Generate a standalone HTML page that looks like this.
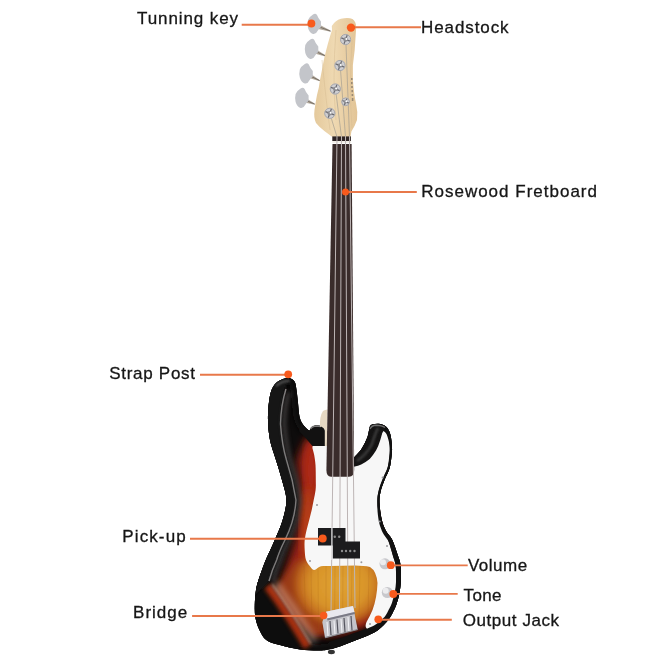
<!DOCTYPE html>
<html><head><meta charset="utf-8">
<style>
html,body{margin:0;padding:0;background:#fff;width:660px;height:660px;overflow:hidden}
svg{display:block}
text{font-family:"Liberation Sans",sans-serif;font-size:17px;fill:#161616;stroke:#161616;stroke-width:0.3}
</style></head>
<body>
<svg width="660" height="660" viewBox="0 0 660 660">
<defs>
  <radialGradient id="burst" cx="335" cy="585" r="80" gradientUnits="userSpaceOnUse" gradientTransform="translate(335 585) scale(0.8 1.6) translate(-335 -585)">
    <stop offset="0" stop-color="#e9a83c"/>
    <stop offset="0.4" stop-color="#dc8c24"/>
    <stop offset="0.62" stop-color="#c85a18"/>
    <stop offset="0.78" stop-color="#9a2410"/>
    <stop offset="0.9" stop-color="#3a0c07"/>
    <stop offset="1" stop-color="#0e0c0c"/>
  </radialGradient>
  <radialGradient id="amber" cx="340" cy="584" r="48" gradientUnits="userSpaceOnUse" gradientTransform="translate(340 584) scale(1 0.9) translate(-340 -584)">
    <stop offset="0" stop-color="#e0a232"/>
    <stop offset="0.6" stop-color="#d8942a"/>
    <stop offset="0.85" stop-color="#c26a1e"/>
    <stop offset="1" stop-color="#9a3a14"/>
  </radialGradient>
  <linearGradient id="maple" x1="0" y1="0" x2="1" y2="0">
    <stop offset="0" stop-color="#e4c99c"/>
    <stop offset="0.45" stop-color="#efd9b2"/>
    <stop offset="1" stop-color="#e2c496"/>
  </linearGradient>
  <filter id="blur4" x="-20%" y="-20%" width="140%" height="140%"><feGaussianBlur stdDeviation="4"/></filter>
  <filter id="blur8" x="-50%" y="-50%" width="200%" height="200%"><feGaussianBlur stdDeviation="8"/></filter>
  <filter id="blur6" x="-50%" y="-50%" width="200%" height="200%"><feGaussianBlur stdDeviation="6"/></filter>
  <filter id="blur3" x="-50%" y="-50%" width="200%" height="200%"><feGaussianBlur stdDeviation="3"/></filter>
  <filter id="blur2" x="-50%" y="-50%" width="200%" height="200%"><feGaussianBlur stdDeviation="2"/></filter>
  <filter id="nofx" x="0" y="0" width="660" height="660" filterUnits="userSpaceOnUse"><feOffset dx="0" dy="0"/></filter>
  <filter id="blur1" x="-20%" y="-20%" width="140%" height="140%"><feGaussianBlur stdDeviation="0.8"/></filter>
  <filter id="blur05" x="-20%" y="-20%" width="140%" height="140%"><feGaussianBlur stdDeviation="0.5"/></filter>
  <clipPath id="bodyclip"><path id="bodyp" d="M353.6 458.0 C354.9 456.6 358.9 453.0 361.2 449.5 C363.5 446.0 366.2 440.5 367.6 436.8 C369.0 433.1 368.8 429.6 369.7 427.5 C370.6 425.4 371.2 424.9 373.0 424.3 C374.8 423.7 378.0 423.5 380.3 424.0 C382.6 424.5 385.0 425.5 386.7 427.3 C388.4 429.1 389.5 431.4 390.4 434.7 C391.3 438.0 391.8 443.7 392.0 447.4 C392.2 451.1 391.8 453.5 391.4 457.0 C391.0 460.5 390.6 464.8 389.5 468.6 C388.4 472.4 386.0 476.1 384.5 480.0 C383.0 483.9 381.3 488.2 380.5 492.0 C379.7 495.8 379.3 498.3 379.5 503.0 C379.7 507.7 380.7 515.3 381.8 520.0 C382.9 524.7 384.2 527.7 386.0 531.0 C387.8 534.3 390.4 536.0 392.3 540.0 C394.2 544.0 396.3 550.8 397.7 555.0 C399.1 559.2 400.0 560.8 400.5 565.0 C401.0 569.2 401.1 575.2 400.9 580.0 C400.7 584.8 400.1 589.8 399.3 594.0 C398.5 598.2 397.2 602.0 396.2 605.0 C395.1 608.0 394.3 609.5 393.0 612.0 C391.7 614.5 390.7 617.0 388.2 620.0 C385.7 623.0 381.4 627.5 378.2 630.0 C375.0 632.5 372.6 633.3 369.0 635.0 C365.4 636.7 360.6 638.3 356.4 640.0 C352.2 641.7 347.8 643.5 343.6 645.0 C339.4 646.5 334.9 648.1 331.0 649.0 C327.1 649.9 325.2 650.4 320.0 650.5 C314.8 650.6 306.7 650.3 300.0 649.4 C293.3 648.5 285.6 646.7 280.0 645.1 C274.4 643.5 269.8 642.5 266.4 640.0 C263.0 637.5 261.3 633.7 259.5 630.0 C257.7 626.3 256.3 622.2 255.5 618.0 C254.7 613.8 254.7 609.7 254.8 605.0 C254.9 600.3 255.4 594.2 256.0 590.0 C256.6 585.8 257.5 583.3 258.5 580.0 C259.5 576.7 260.8 573.3 262.0 570.0 C263.2 566.7 263.7 565.0 265.8 560.0 C267.9 555.0 272.0 546.7 274.8 540.0 C277.6 533.3 280.8 526.7 282.7 520.0 C284.6 513.3 286.5 506.7 286.4 500.0 C286.3 493.3 283.7 486.7 282.0 480.0 C280.3 473.3 278.0 466.7 276.0 460.0 C274.0 453.3 271.3 446.7 270.0 440.0 C268.7 433.3 268.2 426.3 268.0 420.0 C267.8 413.7 268.3 407.2 269.0 402.0 C269.7 396.8 270.5 392.4 272.0 389.0 C273.5 385.6 275.3 383.3 278.0 381.5 C280.7 379.7 285.2 378.0 288.0 378.0 C290.8 378.0 293.1 379.5 294.5 381.5 C295.9 383.5 296.0 386.9 296.5 390.0 C297.0 393.1 297.2 395.6 297.7 400.0 C298.2 404.4 298.7 412.4 299.5 416.4 C300.3 420.4 301.4 421.9 302.6 424.0 C303.9 426.1 305.8 427.9 307.0 429.0 C308.2 430.1 309.5 430.5 310.0 430.8 Q311 426 316 425.5 L321 426 Q324.5 427 324.5 431 L353.6 431 Z"/></clipPath>
</defs>



<!-- headstock -->
<path d="M318.2 24.1 L330.5 30.4 L330.5 31.8 L318.2 28.900000000000002 Z" fill="#b3aa9c"/><line x1="318.2" y1="26.5" x2="330.5" y2="31.1" stroke="#5e5650" stroke-width="0.7"/><path transform="translate(313.7 23.8)" d="M7.3 -2.3 Q4.3 -5.8 3.3 -8.8 Q1.8 -10.8 -0.7 -9.3 Q-4.7 -6.8 -5.7 -3.8 Q-6.7 0.2 -5.7 4.2 Q-4.2 9.2 -0.7 10.2 Q2.3 10.7 3.8 7.2 Q5.3 4.7 7.3 3.2 Z" fill="#c3c5ca"/>
<path d="M315.5 49.0 L326 55.4 L326 56.8 L315.5 53.800000000000004 Z" fill="#b3aa9c"/><line x1="315.5" y1="51.400000000000006" x2="326" y2="56.1" stroke="#5e5650" stroke-width="0.7"/><path transform="translate(311 48.7)" d="M7.3 -2.3 Q4.3 -5.8 3.3 -8.8 Q1.8 -10.8 -0.7 -9.3 Q-4.7 -6.8 -5.7 -3.8 Q-6.7 0.2 -5.7 4.2 Q-4.2 9.2 -0.7 10.2 Q2.3 10.7 3.8 7.2 Q5.3 4.7 7.3 3.2 Z" fill="#c3c5ca"/>
<path d="M310.0 73.5 L319.7 79.9 L319.7 81.3 L310.0 78.3 Z" fill="#b3aa9c"/><line x1="310.0" y1="75.9" x2="319.7" y2="80.6" stroke="#5e5650" stroke-width="0.7"/><path transform="translate(305.5 73.2)" d="M7.3 -2.3 Q4.3 -5.8 3.3 -8.8 Q1.8 -10.8 -0.7 -9.3 Q-4.7 -6.8 -5.7 -3.8 Q-6.7 0.2 -5.7 4.2 Q-4.2 9.2 -0.7 10.2 Q2.3 10.7 3.8 7.2 Q5.3 4.7 7.3 3.2 Z" fill="#c3c5ca"/>
<path d="M305.8 98.0 L314.7 103.4 L314.7 104.8 L305.8 102.8 Z" fill="#b3aa9c"/><line x1="305.8" y1="100.4" x2="314.7" y2="104.1" stroke="#5e5650" stroke-width="0.7"/><path transform="translate(301.3 97.7)" d="M7.3 -2.3 Q4.3 -5.8 3.3 -8.8 Q1.8 -10.8 -0.7 -9.3 Q-4.7 -6.8 -5.7 -3.8 Q-6.7 0.2 -5.7 4.2 Q-4.2 9.2 -0.7 10.2 Q2.3 10.7 3.8 7.2 Q5.3 4.7 7.3 3.2 Z" fill="#c3c5ca"/>
<path d="M331.8 26 Q335 20.5 341 18.8 Q348 17 352.5 19 Q356 21.5 356.2 27 L356 30 L354.7 50 Q352 65 352.9 80 Q354 95 356 103 Q358 112 357 120 Q355 126 351.4 131.4 L350.5 137 L332.3 137 Q328 133.5 325 131.4 Q319 127 316 123 Q313.5 118 314.5 110 Q316 100 317 95 Q319 88 320 80 Q322 70 323.8 60 Q328 42 332 30 Z" fill="url(#maple)"/>
<g stroke="#d2b88e" stroke-width="0.7" fill="none" opacity="0.6"><path d="M322 60 Q326 100 330 130"/><path d="M352 40 Q349 90 352 128"/><path d="M336 30 Q332 80 336 120"/></g>
<g stroke="#a8a092" stroke-width="0.9" opacity="0.8"><line x1="337" y1="137" x2="330" y2="114"/><line x1="341.5" y1="137" x2="335.5" y2="89"/><line x1="345.5" y1="137" x2="340.2" y2="65.5"/><line x1="349.5" y1="137" x2="345.8" y2="39.5"/></g>

<g transform="translate(345.6 39.5)"><circle r="5.5" fill="#cfcfd2"/><path d="M-4.4 -1.6 L4.4 1.6 M-1.6 4.4 L1.6 -4.4" stroke="#6a6a70" stroke-width="1.3"/><circle r="2.3" fill="#8d8d92"/><circle cx="0.8" cy="-0.6" r="1" fill="#ffffff"/><circle r="5.1" fill="none" stroke="#9a9aa0" stroke-width="0.8"/></g><g transform="translate(340 65.5)"><circle r="5.5" fill="#cfcfd2"/><path d="M-4.4 -1.6 L4.4 1.6 M-1.6 4.4 L1.6 -4.4" stroke="#6a6a70" stroke-width="1.3"/><circle r="2.3" fill="#8d8d92"/><circle cx="0.8" cy="-0.6" r="1" fill="#ffffff"/><circle r="5.1" fill="none" stroke="#9a9aa0" stroke-width="0.8"/></g><g transform="translate(335.3 89)"><circle r="5.5" fill="#cfcfd2"/><path d="M-4.4 -1.6 L4.4 1.6 M-1.6 4.4 L1.6 -4.4" stroke="#6a6a70" stroke-width="1.3"/><circle r="2.3" fill="#8d8d92"/><circle cx="0.8" cy="-0.6" r="1" fill="#ffffff"/><circle r="5.1" fill="none" stroke="#9a9aa0" stroke-width="0.8"/></g><g transform="translate(329.8 113.3)"><circle r="5.5" fill="#cfcfd2"/><path d="M-4.4 -1.6 L4.4 1.6 M-1.6 4.4 L1.6 -4.4" stroke="#6a6a70" stroke-width="1.3"/><circle r="2.3" fill="#8d8d92"/><circle cx="0.8" cy="-0.6" r="1" fill="#ffffff"/><circle r="5.1" fill="none" stroke="#9a9aa0" stroke-width="0.8"/></g><g transform="translate(345.6 101.8)"><circle r="4.3" fill="#cfcfd2"/><path d="M-3.4 -1.3 L3.4 1.3 M-1.3 3.4 L1.3 -3.4" stroke="#6a6a70" stroke-width="1.3"/><circle r="1.8" fill="#8d8d92"/><circle cx="0.8" cy="-0.6" r="1" fill="#ffffff"/><circle r="3.9" fill="none" stroke="#9a9aa0" stroke-width="0.8"/></g>
<g fill="#9a8a74">
  <rect x="351" y="78" width="1.6" height="2"/><rect x="351" y="82" width="1.6" height="2.2"/><rect x="351.2" y="86" width="1.6" height="2"/><rect x="351.4" y="90" width="1.6" height="2.2"/><rect x="351.6" y="94" width="1.6" height="2"/><rect x="351.8" y="98" width="1.6" height="3"/>
</g>
<rect x="332.3" y="136.4" width="18.6" height="4.6" fill="#2e2424"/>
<rect x="332.3" y="141" width="18.8" height="2" fill="#f2efe8"/>

<!-- heel beige -->


<!-- body -->
<g clip-path="url(#bodyclip)">
  <rect x="240" y="370" width="170" height="290" fill="#0e0c0c"/>
  <path d="M312 432 Q301 445 297 462 Q301 490 302 505 Q299 530 293 548 Q285 570 280 590 Q300 622 314 634 Q340 639 360 631 Q383 618 390 598 Q395 560 385 520 Q375 490 345 475 Z" fill="#9a2412" filter="url(#blur4)"/>
  <ellipse cx="311" cy="470" rx="6" ry="30" fill="#b02a14" filter="url(#blur4)"/>
  <ellipse cx="308" cy="528" rx="7" ry="40" fill="#b84018" filter="url(#blur4)"/>
  <path d="M296 560 L384 560 L386 600 L368 618 L345 627 L314 636 L290 612 L276 588 Z" fill="url(#amber)" filter="url(#blur3)"/>
  <g stroke="#9a5412" stroke-width="1" opacity="0.16"><line x1="304" y1="566" x2="306" y2="630"/><line x1="311" y1="566" x2="312" y2="632"/><line x1="318" y1="566" x2="318.5" y2="632"/><line x1="326" y1="566" x2="326" y2="630"/><line x1="335" y1="566" x2="334.5" y2="630"/><line x1="343" y1="566" x2="342.5" y2="628"/><line x1="352" y1="566" x2="351" y2="626"/><line x1="360" y1="566" x2="359" y2="624"/><line x1="369" y1="566" x2="368" y2="620"/></g>
  <use href="#bodyp" fill="none" stroke="#0d0c0c" stroke-width="12" filter="url(#blur3)"/>
  <use href="#bodyp" fill="none" stroke="#0d0c0c" stroke-width="5"/>
  <!-- dark zone left of bevel/sheen -->
  <path d="M289 380 Q284 395 282 424 Q285 445 290 462 Q297 482 299 502 Q297 522 289 542 Q282 556 277 570 Q272 578 269 582 Q282 600 292 615 Q302 630 311 645 L240 660 L240 380 Z" fill="#0e0b0b" filter="url(#blur1)"/>
  <!-- red glow left of sheen -->
  <path d="M267.5 586 Q279.5 602 289 617 Q298.5 632 307.5 647" fill="none" stroke="#c4360f" stroke-width="8" opacity="0.85" filter="url(#blur2)"/>
  <!-- side region left of bevel -->
  <path d="M260 380 L289.5 378 Q285 385 283 395 Q280 410 280.5 424 Q283 445 286.5 460 Q292 480 296 500 Q295 520 285 540 Q280 552 276.7 560 Q272 570 270.6 580 L250 600 L240 560 Z" fill="#171616" filter="url(#blur1)"/>
  <path d="M286 389 Q281 405 280.5 424 Q282 445 286.5 460 Q293 480 296 500 Q295 520 285 540 Q279 552 276.7 560 Q272 570 269 581" fill="none" stroke="#8a8888" stroke-width="1.4" filter="url(#blur05)"/>
  <path d="M276 386 Q282 380.5 290 381" fill="none" stroke="#555" stroke-width="2" filter="url(#blur1)"/>
  <path d="M289 392 Q284.5 405 284 424 Q286 445 290 460 Q297 480 299.5 500 Q298.5 520 289 540 Q283 552 280.5 560 Q276 570 273 581" fill="none" stroke="#4a4646" stroke-width="4" opacity="0.8" filter="url(#blur2)"/>
  <!-- white glow right of sheen -->
  <path d="M275 583 Q286 598 296 612 Q306 628 315 642" fill="none" stroke="#f6e2d0" stroke-width="7" opacity="0.38" filter="url(#blur3)"/>
  <path d="M272 584 Q282 598 291 612 Q302 629 311 644" fill="none" stroke="#fbeee4" stroke-width="1.6" opacity="0.4" filter="url(#blur1)"/>
</g>

<!-- pickguard -->
<path id="pg" d="M312.4 448 Q312.4 443.5 316.5 443.5 L353.6 443.5 L353.6 465.5 Q362 464 367.7 459 Q375 451 379.5 440 Q381 434 383 431 C383.6 431.5 385.4 431.7 386.5 434.0 C387.6 436.3 389.0 441.2 389.5 445.0 C390.0 448.8 389.8 453.2 389.5 457.0 C389.2 460.8 388.7 464.2 387.5 468.0 C386.3 471.8 384.0 476.0 382.5 480.0 C381.0 484.0 379.3 488.2 378.5 492.0 C377.7 495.8 377.3 498.3 377.5 503.0 C377.7 507.7 378.7 515.3 379.8 520.0 C380.9 524.7 382.6 527.7 384.0 531.0 C385.4 534.3 386.8 536.0 388.2 540.0 C389.6 544.0 391.5 550.8 392.7 555.0 C393.9 559.2 394.9 560.8 395.5 565.0 C396.1 569.2 396.1 575.2 396.1 580.0 C396.1 584.8 396.1 589.8 395.5 594.0 C394.9 598.2 393.2 602.7 392.5 605.0 C391.8 607.3 392.8 605.5 391.4 608.0 C390.0 610.5 386.1 617.2 384.2 620.0 C382.3 622.8 382.0 623.3 380.0 625.0 C378.0 626.7 374.0 629.2 372.0 630.0 C370.0 630.8 369.0 629.9 368.0 629.5 C367.0 629.1 366.3 627.8 366.0 627.4 Q365 626 366.5 622 Q370 616 372.5 610 Q377 598 377.5 583 Q376.5 571 370 567 Q364 565.5 355 565.5 L330 566 C328.5 566.0 323.6 565.6 321.0 566.3 C318.4 567.0 316.1 569.9 314.3 570.0 C312.6 570.1 311.9 568.7 310.5 567.0 C309.1 565.3 307.0 562.8 306.0 560.0 C305.0 557.2 304.9 553.3 304.7 550.0 C304.5 546.7 304.4 543.3 304.7 540.0 C305.0 536.7 305.9 533.3 306.6 530.0 C307.4 526.7 308.4 523.3 309.2 520.0 C310.0 516.7 310.9 513.3 311.7 510.0 C312.4 506.7 313.0 503.3 313.7 500.0 C314.4 496.7 315.2 493.3 315.6 490.0 C316.0 486.7 315.8 484.2 315.8 480.0 C315.8 475.8 315.8 469.2 315.5 465.0 C315.2 460.8 314.7 457.8 314.2 455.0 C313.7 452.2 312.7 449.2 312.4 448.0 Z" fill="#f7f7f7"/>
<g clip-path="url(#bodyclip)">
  <path d="M387.4 426.9 L387.8 427.6 L388.4 428.6 L389.1 429.8 L389.9 431.2 L390.6 432.8 L391.2 434.5 L391.6 436.4 L392.0 438.5 L392.3 440.8 L392.5 443.1 L392.7 445.3 L392.8 447.4 L392.8 449.2 L392.8 450.8 L392.7 452.3 L392.6 453.8 L392.4 455.4 L392.2 457.1 L392.0 458.9 L391.8 460.8 L391.5 462.8 L391.2 464.8 L390.8 466.8 L390.3 468.8 L389.6 470.8 L388.8 472.7 L387.9 474.6 L386.9 476.5 L386.0 478.4 L385.2 480.3 L384.5 482.3 L383.7 484.3 L383.0 486.3 L382.3 488.3 L381.8 490.3 L381.3 492.2 L380.9 494.0 L380.6 495.6 L380.4 497.3 L380.3 499.0 L380.2 500.8 L380.3 503.0 L380.5 505.5 L380.7 508.4 L381.1 511.4 L381.6 514.4 L382.1 517.3 L382.6 519.8 L383.1 522.0 L383.7 523.9 L384.4 525.7 L385.1 527.4 L385.9 529.0 L386.7 530.6 L387.6 532.1 L388.6 533.4 L389.7 534.7 L390.8 536.1 L392.0 537.8 L393.0 539.6 L394.0 541.9 L395.0 544.5 L396.0 547.2 L396.9 549.9 L397.7 552.5 L398.5 554.7 L399.1 556.6 L399.7 558.3 L400.2 559.8 L400.6 561.3 L401.0 563.0 L401.3 564.9 L401.5 567.2 L401.7 569.6 L401.8 572.2 L401.8 574.9 L401.8 577.5 L401.7 580.0 L401.6 582.5 L401.4 584.9 L401.1 587.3 L400.8 589.7 L400.5 592.0 L400.1 594.2 L399.7 596.2 L399.2 598.2 L398.6 600.2 L398.1 602.0 L397.5 603.7 L397.0 605.3 L396.4 606.7 L395.9 607.9 L395.4 609.0 L394.9 610.1 L394.3 611.2 L393.7 612.4 L393.1 613.6 L392.4 614.9 L391.7 616.2 L390.9 617.6 L390.0 619.0 L388.8 620.5 L387.4 622.1 L385.8 623.9 L384.0 625.8 L382.2 627.5 L380.4 629.2 L378.7 630.6 L377.1 631.8 L375.6 632.7 L374.1 633.5 L372.6 634.2 L371.0 635.0 L369.3 635.7 L367.4 636.6 L365.4 637.4 L363.2 638.2 L361.0 639.1 L358.8 639.9 L356.7 640.7 L354.6 641.6 L352.4 642.4 L350.3 643.3 L348.1 644.2 L346.0 645.0 L343.9 645.8 L341.6 646.5 L339.2 647.3 L336.7 648.1 L334.5 648.8 L332.6 649.3 L331.2 649.8 L328.8 642.0 L330.2 641.6 L332.1 641.0 L334.3 640.3 L336.7 639.6 L339.0 638.8 L341.2 638.1 L343.2 637.4 L345.2 636.6 L347.3 635.8 L349.4 634.9 L351.6 634.1 L353.7 633.2 L356.0 632.4 L358.2 631.7 L360.4 631.0 L362.5 630.3 L364.5 629.6 L366.3 628.9 L368.0 628.2 L369.6 627.6 L370.9 627.1 L372.0 626.6 L373.2 626.0 L374.5 625.2 L376.0 624.2 L377.8 622.9 L379.6 621.4 L381.4 619.8 L383.1 618.3 L384.5 617.0 L385.4 615.7 L386.2 614.6 L386.8 613.5 L387.5 612.3 L388.1 611.1 L388.7 609.8 L389.4 608.6 L389.9 607.6 L390.4 606.6 L390.8 605.7 L391.2 604.7 L391.7 603.4 L392.2 601.9 L392.7 600.3 L393.2 598.6 L393.7 596.8 L394.2 595.0 L394.6 593.1 L394.9 591.1 L395.3 588.9 L395.6 586.7 L395.8 584.4 L396.0 582.1 L396.1 579.8 L396.2 577.4 L396.2 574.9 L396.2 572.4 L396.1 569.9 L395.9 567.6 L395.7 565.6 L395.5 564.0 L395.2 562.7 L394.8 561.4 L394.4 560.1 L393.8 558.5 L393.1 556.5 L392.5 554.2 L391.8 551.6 L391.0 548.9 L390.2 546.2 L389.4 543.8 L388.6 541.8 L387.9 540.3 L387.0 539.0 L386.1 537.7 L385.0 536.3 L383.8 534.6 L382.8 532.8 L381.9 530.9 L381.2 529.1 L380.5 527.3 L379.8 525.3 L379.2 523.1 L378.7 520.7 L378.3 518.0 L377.9 515.0 L377.6 511.9 L377.4 508.7 L377.2 505.8 L377.2 503.1 L377.2 500.8 L377.3 498.8 L377.4 497.0 L377.6 495.2 L378.0 493.4 L378.4 491.5 L378.9 489.5 L379.5 487.4 L380.2 485.3 L380.9 483.2 L381.7 481.2 L382.5 479.2 L383.3 477.2 L384.2 475.2 L385.1 473.3 L386.0 471.5 L386.8 469.7 L387.4 468.0 L387.9 466.2 L388.2 464.3 L388.5 462.4 L388.8 460.5 L389.0 458.6 L389.2 456.7 L389.4 455.1 L389.6 453.5 L389.7 452.1 L389.8 450.7 L389.8 449.2 L389.8 447.5 L389.7 445.6 L389.5 443.4 L389.3 441.2 L389.0 439.0 L388.7 437.0 L388.3 435.3 L387.8 433.9 L387.2 432.5 L386.5 431.3 L385.9 430.2 L385.2 429.2 L384.8 428.4 Z" fill="#111"/>
</g>
<!-- neck pocket ledge -->
<path d="M301 423 Q306 429.5 310 430.8 Q311 426 316 425.5 L321 426 Q324.5 427 324.5 431 L327.5 431 L327.5 446 L312.4 446 Q306 438 299 431 Z" fill="#121111"/>
<path d="M310.5 429 Q312 426 316.5 426 L321 426.5" stroke="#7a7a7a" stroke-width="1.6" fill="none" filter="url(#blur05)"/>
<path d="M320 427 Q319.5 416 323 411 Q325 409.5 327.5 409.5 L327.5 446 L324.8 446 L324.8 430 Q324 427.5 321 426.5 Z" fill="#e6d8c2"/>
<!-- lower horn black -->
<path d="M353.6 458 Q358 453 361.2 449.5 Q366 443 367.6 436.8 Q369 430 369.7 426.2 Q370.5 424.4 373 424.2 L380.3 424 Q384 424.5 386.7 427.3 Q384 429.5 382.4 432.6 Q381.5 436 380.3 440 Q378.5 446 376 450.6 Q373 455.5 369.7 459 Q365.5 462.5 361.2 464.4 Q358 465.8 354.8 466.5 L353.6 466.8 Z" fill="#141313"/>
<path d="M357 461 Q367 454 372 444 Q375 434 378 428" fill="none" stroke="#3c3c3c" stroke-width="2.5" filter="url(#blur1)"/>
<path d="M370 429 Q371.5 425.3 376 425.2 Q382 425.3 385 427.5" stroke="#6e6e6e" stroke-width="1.4" fill="none" filter="url(#blur05)"/>

<!-- neck / fretboard -->
<path d="M332.5 144 L351.6 144 L354.2 470 Q354.2 476.5 349 476.8 L331 476.8 Q326.4 476.5 326.4 470 Z" fill="#3a2c2b"/>
<g stroke="#bdb5b5" stroke-width="1">
  <line x1="337" y1="136" x2="331" y2="614"/>
  <line x1="341.5" y1="136" x2="339.5" y2="612"/>
  <line x1="345.5" y1="136" x2="348" y2="610"/>
  <line x1="349.5" y1="136" x2="355" y2="608"/>
</g>

<!-- pickup -->
<path d="M318 528 L345.5 528 L345.5 541.4 L360 541.4 L360 558.6 L332.7 558.6 L332.7 545.5 L318 545.5 Z" fill="#1c1c1e"/>
<rect x="331.2" y="527" width="1.4" height="33" fill="#e8e8ea" opacity="0.9"/>
<g fill="#d8d8d8" opacity="0.6">
  <circle cx="334.8" cy="536.8" r="1.2"/><circle cx="339.2" cy="536.8" r="1.2"/>
  <circle cx="342" cy="551" r="1.2"/><circle cx="346" cy="551" r="1.2"/><circle cx="350.2" cy="551" r="1.2"/><circle cx="354.5" cy="551" r="1.2"/>
</g>
<!-- screws -->
<g fill="#9a9a9e">
  <circle cx="317" cy="505" r="1"/><circle cx="382.6" cy="477.6" r="1"/><circle cx="379.7" cy="521.5" r="1"/>
  <circle cx="310" cy="561" r="1"/><circle cx="361.4" cy="562.3" r="1"/><circle cx="387" cy="546" r="1"/><circle cx="370" cy="624" r="1"/>
</g>

<!-- bridge -->
<path d="M323 624 L327 639 L359 630 L356 620 Z" fill="#2a1a14" opacity="0.6" filter="url(#blur1)"/>
<path d="M326 611.8 L353 606 L357.7 629.5 L325 637.7 L322.3 622 Z" fill="#c4c4ca"/>
<path d="M326 611.8 L353 606 L354.5 612 L327 618.5 Z" fill="#e8e8ee"/>
<path d="M327 618.5 L354.5 612 L355 614 L327.5 620.5 Z" fill="#7a7a86"/>
<g stroke="#55555f" stroke-width="1.2">
  <line x1="330" y1="621" x2="331" y2="635"/>
  <line x1="337" y1="619.5" x2="338" y2="633.5"/>
  <line x1="344" y1="618" x2="345" y2="632"/>
  <line x1="351" y1="616" x2="352" y2="630.5"/>
</g>
<g stroke="#f4f4f8" stroke-width="1">
  <line x1="327" y1="622" x2="328" y2="636"/>
  <line x1="334" y1="620.5" x2="335" y2="634.5"/>
  <line x1="341" y1="619" x2="342" y2="633"/>
  <line x1="348" y1="617" x2="349" y2="631.5"/>
</g>
<path d="M325 637.7 L357.7 629.5" stroke="#8a8a90" stroke-width="1.2"/>
<ellipse cx="331.4" cy="652" rx="3.5" ry="2.2" fill="#333"/>

<!-- knobs -->
<circle cx="385" cy="563.8" r="5.5" fill="#c8c8cc"/>
<circle cx="383" cy="562.3" r="3" fill="#ececee"/>
<circle cx="387.3" cy="592.5" r="5.5" fill="#c8c8cc"/>
<circle cx="385.7" cy="590.7" r="3" fill="#ececee"/>

<!-- leader lines -->
<g stroke="#e8784a" stroke-width="1.9" fill="none">
  <line x1="241.7" y1="24.7" x2="311" y2="24.7"/>
  <line x1="351" y1="27.3" x2="421" y2="27.3"/>
  <line x1="345" y1="192" x2="416.8" y2="192"/>
  <line x1="200" y1="374.8" x2="288" y2="374.8"/>
  <line x1="190" y1="538.7" x2="322.7" y2="538.7"/>
  <line x1="192.1" y1="616" x2="323.7" y2="616"/>
  <line x1="390.8" y1="565.4" x2="467.7" y2="565.4"/>
  <line x1="393.3" y1="593.9" x2="457.7" y2="593.9"/>
  <line x1="378.3" y1="619.8" x2="451.8" y2="619.8"/>
</g>
<!-- dots -->
<g fill="#f85a1c" filter="url(#blur05)">
  <circle cx="311.4" cy="23.5" r="3.9"/>
  <circle cx="351" cy="27.6" r="4.2"/>
  <circle cx="345.5" cy="192" r="3.5"/>
  <circle cx="288.2" cy="374.3" r="3.9"/>
  <circle cx="322.7" cy="538.5" r="4.0"/>
  <circle cx="323.7" cy="615.5" r="3.7"/>
  <circle cx="390.8" cy="565.2" r="3.9"/>
  <circle cx="393.3" cy="594" r="3.9"/>
  <circle cx="378.3" cy="619.3" r="3.9"/>
</g>

<!-- labels -->
<g filter="url(#nofx)">
<text x="137.0" y="24.0" textLength="101.1" lengthAdjust="spacing">Tunning key</text>
<text x="421.0" y="32.8" textLength="87.6" lengthAdjust="spacing">Headstock</text>
<text x="421.2" y="197.1" textLength="175.8" lengthAdjust="spacing">Rosewood Fretboard</text>
<text x="109.2" y="378.7" textLength="85.8" lengthAdjust="spacing">Strap Post</text>
<text x="122.3" y="542.0" textLength="63.4" lengthAdjust="spacing">Pick-up</text>
<text x="133.1" y="618.0" textLength="54.1" lengthAdjust="spacing">Bridge</text>
<text x="467.9" y="570.8" textLength="59.2" lengthAdjust="spacing">Volume</text>
<text x="463.6" y="600.8" textLength="37.8" lengthAdjust="spacing">Tone</text>
<text x="462.7" y="626.3" textLength="96.3" lengthAdjust="spacing">Output Jack</text>
</g>
</svg>
</body></html>
